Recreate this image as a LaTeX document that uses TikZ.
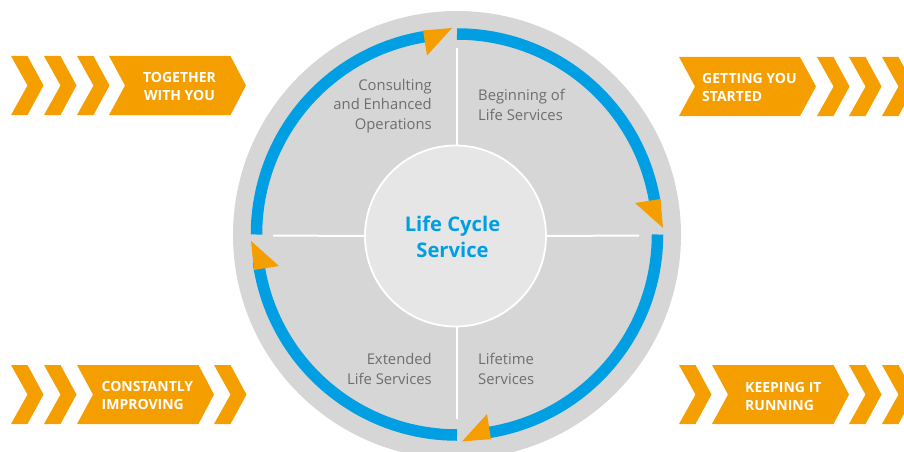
\documentclass[tikz,border=0pt]{standalone}
\usepackage{fontspec}
\setmainfont{Open Sans}
\definecolor{orangeC}{HTML}{F59E00}
\definecolor{blueC}{HTML}{009FE3}
\definecolor{ringC}{HTML}{D6D6D6}
\definecolor{hubC}{HTML}{E6E6E6}
\definecolor{txtC}{HTML}{6E6E6E}
\tikzset{
  x=1pt,y=-1pt,
  band/.style={fill=orangeC,draw=none},
  divider/.style={draw=white,line width=2pt},
  bluearc/.style={draw=blueC,line width=11.5pt},
  tip/.style={fill=orangeC,draw=none},
  bandtext/.style={text=white,font=\fontsize{14}{18}\selectfont\bfseries,align=center,inner sep=0pt},
  seclabel/.style={text=txtC,font=\fontsize{14.8}{19.2}\selectfont,inner sep=0pt},
  hub/.style={circle,fill=hubC,draw=white,line width=1.8pt,minimum size=181pt,inner sep=0pt},
  hubtext/.style={text=blueC,align=center,inner sep=0pt,font=\fontsize{20.2}{26}\selectfont\bfseries}
}
\newcommand{\chev}[2]{\fill[band] (#1,#2) -- ++(16.5,0) -- ++(16,29.5) -- ++(-16,29.5) -- ++(-16.5,0) -- ++(16.5,-29.5) -- cycle;}
\newcommand{\blockR}[2]{\fill[band] (#1,#2) -- ++(121.5,0) -- ++(15.5,29.5) -- ++(-15.5,29.5) -- ++(-121.5,0) -- ++(16,-29.5) -- cycle;}
\begin{document}
\begin{tikzpicture}
\useasboundingbox (0,0) rectangle (904,452);
\begin{scope}
\clip (0,0) rectangle (904,452);
\fill[ringC] (457,235) circle (224);
\chev{11}{56}\chev{44}{56}\chev{77}{56}\blockR{109}{56}
\chev{11}{365}\chev{44}{365}\blockR{77}{365}\chev{214}{365}
\fill[band] (679,57) -- (800,57) -- (816,86.5) -- (800,116) -- (679,116) -- (695,86.5) -- cycle;
\chev{817}{57}\chev{849}{57}\chev{882}{57}
\chev{679}{365}\blockR{712}{365}\chev{849}{365}\chev{882}{365}
% blue ring
\begin{scope}[shift={(457,234.5)},y=1pt]
\draw[bluearc] (90:200.5) arc[start angle=90,end angle=8,radius=200.5pt];
\draw[bluearc] (0:200.5) arc[start angle=0,end angle=-82,radius=200.5pt];
\draw[bluearc] (-90:200.5) arc[start angle=-90,end angle=-172,radius=200.5pt];
\draw[bluearc] (180:200.5) arc[start angle=180,end angle=98,radius=200.5pt];
\end{scope}
\end{scope}
\fill[tip] (423,30.5) -- (452,28) -- (427,55.5) -- cycle;
\fill[tip] (635,203) -- (660.5,199) -- (663,228) -- cycle;
\fill[tip] (251,241) -- (279,266) -- (254,270) -- cycle;
\fill[tip] (462,441.5) -- (487,414) -- (491,439) -- cycle;
% hub and dividers
\node[hub] (hubN) at (455.5,236) {};
\node[hubtext] (hubT) at (452.5,237) {Life Cycle\\Service};
\coordinate (tE) at (456.5,48);
\coordinate (bE) at (456.5,419);
\coordinate (lE) at (273,235.5);
\coordinate (rE) at (639,235.5);
\draw[divider] (hubN.north) ++(1,0) -- (tE);
\draw[divider] (hubN.south) ++(1,0) -- (bE);
\draw[divider] (hubN.west) -- (lE);
\draw[divider] (hubN.east) -- (rE);
% labels
\node[seclabel,align=right,anchor=east] (cons) at (432,106) {Consulting\\and Enhanced\\Operations};
\node[seclabel,align=left,anchor=west] (begin) at (478,105) {Beginning of\\Life Services};
\node[seclabel,align=right,anchor=east] (ext) at (432,369) {Extended\\Life Services};
\node[seclabel,align=left,anchor=west] (life) at (478,369) {Lifetime\\Services};
\node[bandtext] (t1) at (179.5,86.5) {TOGETHER\\WITH YOU};
\node[bandtext,anchor=west,align=left] (t2) at (702,87.5) {GETTING YOU\\STARTED};
\node[bandtext,anchor=west,align=left] (t3) at (101.5,395.5) {CONSTANTLY\\IMPROVING};
\node[bandtext,anchor=west,align=left] (t4) at (745,396) {KEEPING IT\\RUNNING};
\end{tikzpicture}
\end{document}
